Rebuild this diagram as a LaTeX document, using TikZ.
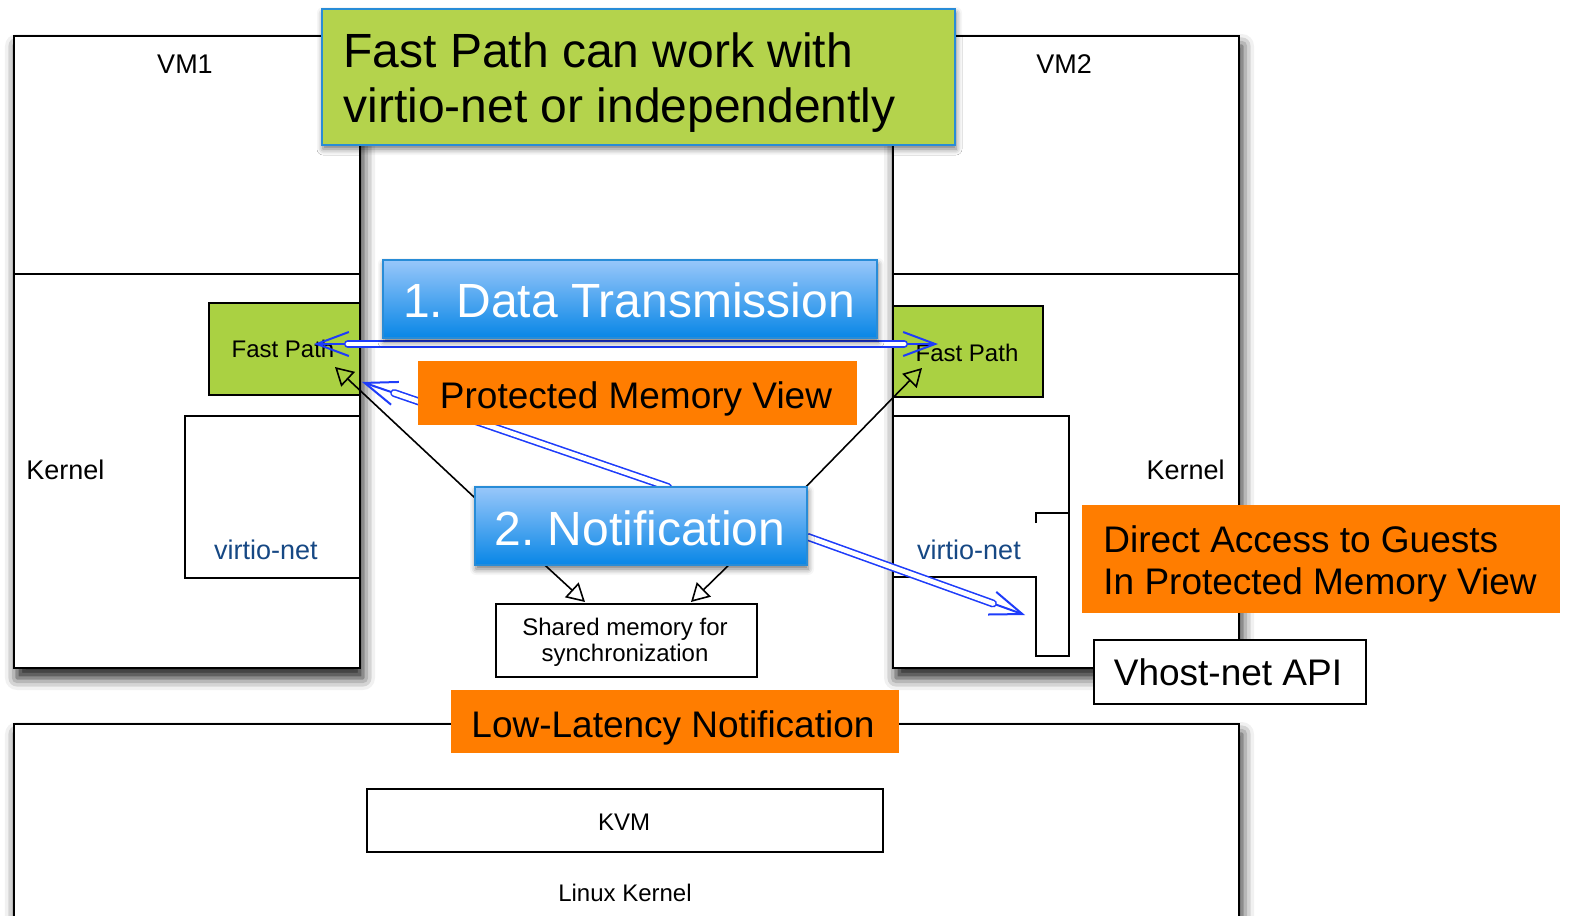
\documentclass[tikz,border=0pt]{standalone}
\usepackage{fontspec}
\setmainfont{Liberation Sans}
\usetikzlibrary{arrows.meta,fit,shadows.blur}

\definecolor{titlegreen}{RGB}{180,211,76}
\definecolor{fpgreen}{RGB}{170,209,66}
\definecolor{calloutorange}{RGB}{255,125,0}
\definecolor{bannertop}{RGB}{152,199,250}
\definecolor{bannerbot}{RGB}{8,134,230}
\definecolor{banneredge}{RGB}{40,140,215}
\definecolor{vnblue}{RGB}{22,72,132}
\definecolor{flowblue}{RGB}{30,60,250}

\tikzset{
  vmbox/.style={draw, line width=1.3pt, fill=white, inner sep=0pt,
    blur shadow={shadow xshift=1.5pt, shadow yshift=-5pt, shadow blur radius=6pt, shadow opacity=90}},
  plainbox/.style={draw, line width=1pt, fill=white, inner sep=0pt},
  fpbox/.style={draw, line width=1pt, fill=fpgreen, inner sep=0pt},
  titlebox/.style={draw=banneredge, line width=0.6pt, fill=titlegreen, inner sep=0pt,
    blur shadow={shadow xshift=0.5pt, shadow yshift=-2pt, shadow blur radius=3pt, shadow opacity=55}},
  banner/.style={draw=banneredge, line width=0.6pt, top color=bannertop, bottom color=bannerbot, inner sep=0pt,
    blur shadow={shadow xshift=0.5pt, shadow yshift=-2pt, shadow blur radius=3pt, shadow opacity=55}},
  callout/.style={fill=calloutorange, inner sep=0pt},
  lbl/.style={inner sep=0pt, anchor=base},
  titlefont/.style={font=\fontsize{24pt}{28pt}\selectfont},
  bannerfont/.style={text=white, font=\fontsize{24pt}{28pt}\selectfont},
  calloutfont/.style={font=\fontsize{18.5pt}{22pt}\selectfont},
  vmfont/.style={font=\fontsize{13.5pt}{16pt}\selectfont},
  smallfont/.style={font=\fontsize{12pt}{14pt}\selectfont},
  blkarrow/.style={draw, line width=0.8pt, -{Triangle[open, length=9pt, width=10pt, line width=0.8pt]}},
  barbline/.style={draw=flowblue, line width=1pt},
  shaftout/.style={draw=flowblue, line width=4pt, line cap=round},
  shaftin/.style={draw=white, line width=2.4pt, line cap=round},
}
\newcommand\flowshaft[4]{%
  \draw[shaftout, shorten <=#3, shorten >=#4] (#1) -- (#2);
  \draw[shaftin, shorten <=#3, shorten >=#4] (#1) -- (#2);}

\begin{document}
\frenchspacing
\begin{tikzpicture}[x=0.5pt, y=-0.5pt]
\useasboundingbox (0,0) rectangle (1570,916);

% ---------- guests and host ----------
\node[vmbox, fit={(14,36)(360,668)}] (vm1) {};
\node[vmbox, fit={(893,36)(1239,668)}] (vm2) {};
\node[vmbox, fit={(14,724)(1239,960)}] (host) {};
\draw[line width=1.3pt] (14,274) -- (360,274);
\draw[line width=1.3pt] (893,274) -- (1239,274);

\node[vmfont, lbl] (vm1lbl) at (185,73) {VM1};
\node[vmfont, lbl] (vm2lbl) at (1064,73) {VM2};
\node[vmfont, lbl, anchor=base west] (k1lbl) at (26,479) {Kernel};
\node[vmfont, lbl, anchor=base east] (k2lbl) at (1225,479) {Kernel};

% VM1 kernel parts
\node[fpbox, fit={(209,303)(360,395)}] (fp1) {};
\node[smallfont, lbl] (fp1lbl) at (283,357) {Fast Path};
\node[plainbox, fit={(185,416)(360,578)}] (vn1) {};
\node[vmfont, lbl, text=vnblue] (vn1lbl) at (266,559) {virtio-net};

% VM2 kernel parts
\node[fpbox, fit={(893,306)(1043,397)}] (fp2) {};
\node[smallfont, lbl] (fp2lbl) at (967,361) {Fast Path};
\draw[line width=1pt] (893,416) -- (1069,416) -- (1069,656) -- (1036,656) -- (1036,577) -- (893,577);
\draw[line width=1pt] (1036,523) -- (1036,513) -- (1069,513);
\node[vmfont, lbl, text=vnblue] (vn2lbl) at (969,559) {virtio-net};

\node[smallfont, lbl] (hostlbl) at (625,901) {Linux Kernel};

% ---------- connectors ----------
\coordinate (fp1tip) at (335,367);
\coordinate (fp2tip) at (922,368);
\coordinate (nL) at (490,512);
\coordinate (nR) at (796,497);
\coordinate (nB1) at (535,556);
\coordinate (nB2) at (737,557);
\coordinate (shmL) at (585,602);
\coordinate (shmR) at (691,602);

\coordinate (dtL) at (314,344);
\coordinate (dtR) at (938,344);
\coordinate (pmS) at (668,487);
\coordinate (pmE) at (362,382);
\coordinate (daS) at (808,537);
\coordinate (daE) at (1025,615);

\draw[blkarrow] (nL) -- (fp1tip);
\draw[blkarrow] (nR) -- (fp2tip);
\draw[blkarrow] (nB1) -- (shmL);
\draw[blkarrow] (nB2) -- (shmR);

% data path between the two fast paths
\draw[barbline, {Straight Barb[length=16pt, width=12pt, line width=1pt]}-{Straight Barb[length=16pt, width=12pt, line width=1pt]}] (dtL) -- (dtR);
\flowshaft{dtL}{dtR}{17pt}{17pt}

% protected memory view into VM1
\draw[barbline, -{Straight Barb[length=16pt, width=12pt, line width=1pt]}] (pmS) -- (pmE);
\flowshaft{pmS}{pmE}{0pt}{17pt}

% direct access into VM2
\draw[barbline, -{Straight Barb[length=16pt, width=12pt, line width=1pt]}] (daS) -- (daE);
\flowshaft{daS}{daE}{0pt}{17pt}

% ---------- boxes on top ----------
\node[titlebox, fit={(322,9)(955,145)}] (title) {};
\node[titlefont, lbl, anchor=base west] (title1) at (343,67) {Fast Path can work with};
\node[titlefont, lbl, anchor=base west] (title2) at (343,122) {virtio-net or independently};

\node[banner, fit={(383,260)(877,338)}] (data) {};
\node[bannerfont, lbl] (datalbl) at (629,317) {1. Data Transmission};

\node[callout, fit={(418,361)(857,425)}] (pmv) {};
\node[calloutfont, lbl] (pmvlbl) at (636,408) {Protected Memory View};

\node[banner, fit={(475,487)(807,565)}] (notif) {};
\node[bannerfont, lbl] (notiflbl) at (640,545) {2. Notification};

\node[plainbox, fit={(496,604)(757,677)}] (shm) {};
\node[smallfont, lbl] (shm1) at (625,635) {Shared memory for};
\node[smallfont, lbl] (shm2) at (625,661) {synchronization};

\node[callout, fit={(451,690)(899,753)}] (lowlat) {};
\node[calloutfont, lbl] (lowlatlbl) at (673,737) {Low-Latency Notification};

\node[plainbox, fit={(367,789)(883,852)}] (kvm) {};
\node[smallfont, lbl] (kvmlbl) at (624,830) {KVM};

\node[callout, fit={(1082,505)(1560,613)}] (direct) {};
\node[calloutfont, lbl, anchor=base west] (direct1) at (1103,552) {Direct Access to Guests};
\node[calloutfont, lbl, anchor=base west] (direct2) at (1103,594) {In Protected Memory View};

\node[plainbox, fit={(1094,640)(1366,704)}] (vhost) {};
\node[calloutfont, lbl] (vhostlbl) at (1228,685) {Vhost-net API};
\end{tikzpicture}
\end{document}
